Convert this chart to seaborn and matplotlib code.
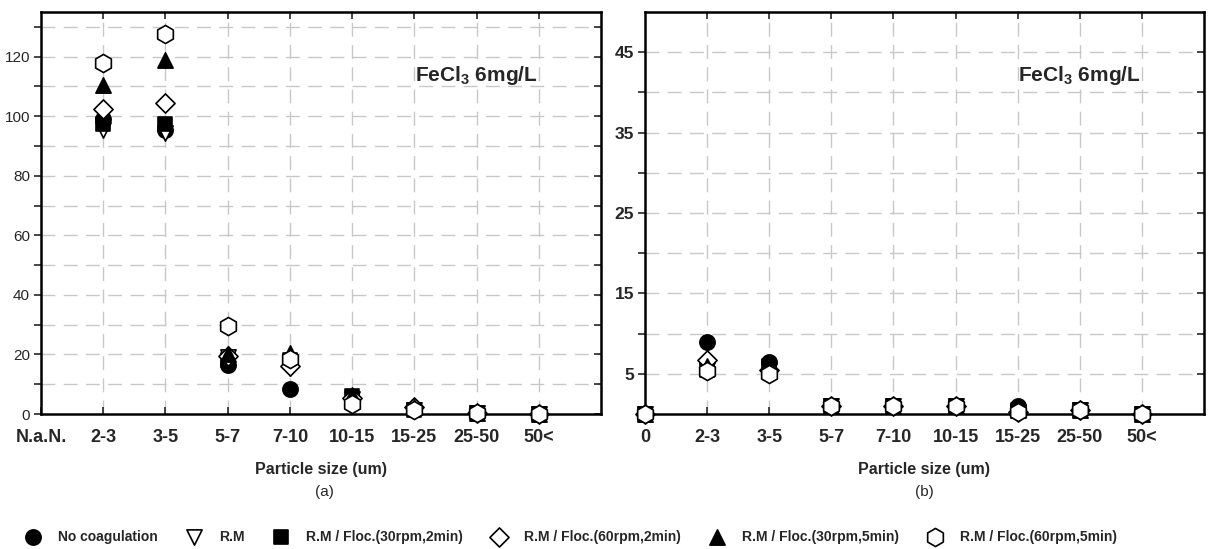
import numpy as np
import pandas as pd
import matplotlib
matplotlib.use("Agg")
import matplotlib.pyplot as plt
import seaborn as sns

sns.set_style("white")
plt.rcParams['font.family'] = ['Liberation Sans', 'DejaVu Sans']
plt.rcParams['mathtext.default'] = 'regular'

# ---------------- data ----------------
cats_a = ["N.a.N.", "2-3", "3-5", "5-7", "7-10", "10-15", "15-25", "25-50", "50<"]
cats_b = ["0", "2-3", "3-5", "5-7", "7-10", "10-15", "15-25", "25-50", "50<"]
series = ["No coagulation", "R.M", "R.M / Floc.(30rpm,2min)",
          "R.M / Floc.(60rpm,2min)", "R.M / Floc.(30rpm,5min)",
          "R.M / Floc.(60rpm,5min)"]

# panel (a): values for 2-3 .. 50< (N.a.N. has no data)
a_nocoag = [99.0, 95.5, 16.5, 8.5, 4.0, 1.5, 0.5, 0.0]
a_rm     = [95.5, 94.5, 19.0, 15.5, 5.0, 1.5, 0.5, 0.0]
a_f30_2  = [97.5, 97.5, 18.0, 18.0, 6.0, 1.5, 0.5, 0.0]
a_f60_2  = [102.5, 104.5, 19.5, 16.0, 5.5, 2.5, 0.5, 0.0]
a_f30_5  = [110.5, 119.0, 20.0, 20.5, 6.5, 2.5, 0.5, 0.0]
a_f60_5  = [118.0, 127.5, 29.5, 18.5, 3.5, 1.5, 0.3, 0.0]

# panel (b): values for 0 .. 50<
b_nocoag = [0.0, 9.0, 6.5, 1.0, 1.0, 1.0, 1.0, 0.5, 0.0]
b_rm     = [0.0, 5.5, 5.5, 1.0, 1.0, 1.0, 0.3, 0.5, 0.0]
b_f30_2  = [0.0, 5.5, 6.0, 1.0, 1.0, 1.0, 0.5, 0.5, 0.0]
b_f60_2  = [0.0, 6.7, 5.5, 1.0, 1.0, 1.0, 0.3, 0.5, 0.0]
b_f30_5  = [0.0, 6.0, 6.0, 1.0, 1.0, 1.0, 0.5, 0.5, 0.0]
b_f60_5  = [0.0, 5.3, 5.0, 1.0, 1.0, 1.0, 0.2, 0.5, 0.0]

a_vals = [a_nocoag, a_rm, a_f30_2, a_f60_2, a_f30_5, a_f60_5]
b_vals = [b_nocoag, b_rm, b_f30_2, b_f60_2, b_f30_5, b_f60_5]

markers = ['o', 'v', 's', 'D', '^', 'h']
faces = ['black', 'white', 'black', 'white', 'black', 'white']
sizes = [120, 120, 110, 95, 120, 170]

rows_a = []
for s, vals in zip(series, a_vals):
    for c, v in zip(cats_a[1:], vals):
        rows_a.append((s, cats_a.index(c), v))
df_a = pd.DataFrame(rows_a, columns=["series", "pos", "value"])
rows_b = []
for s, vals in zip(series, b_vals):
    for c, v in zip(cats_b, vals):
        rows_b.append((s, cats_b.index(c), v))
df_b = pd.DataFrame(rows_b, columns=["series", "pos", "value"])

fig = plt.figure(figsize=(12.16, 5.49), dpi=100)
ax1 = fig.add_axes([41/1216, 1-414/549, 560/1216, 402/549])
ax2 = fig.add_axes([645/1216, 1-414/549, 559/1216, 402/549])

def draw(ax, df):
    for i, s in enumerate(series):
        d = df[df.series == s]
        sns.scatterplot(data=d, x="pos", y="value", ax=ax, marker=markers[i],
                        s=sizes[i], facecolor=faces[i], edgecolor='black',
                        linewidth=1.2, label=s, zorder=3 + i, legend=False,
                        clip_on=False)

draw(ax1, df_a)
draw(ax2, df_b)

grid_kw = dict(color='#c8c8c8', linestyle=(0, (10, 6)), linewidth=1.0, zorder=0)

def style(ax, cats, ylim, ylabels, ygrid, ybold, ysize):
    ax.set_xlim(0, len(cats))
    ax.set_ylim(*ylim)
    ax.set_xticks(range(len(cats)))
    ax.set_xticklabels(cats, fontsize=13, fontweight='bold')
    ax.set_yticks(ygrid)
    ax.set_yticklabels(ylabels, fontsize=ysize, fontweight='bold' if ybold else 'normal')
    for g in ygrid:
        if g > 0:
            ax.axhline(g, **grid_kw)
    for x in range(1, len(cats)):
        ax.axvline(x, **grid_kw)
    for sp in ax.spines.values():
        sp.set_linewidth(1.8)
        sp.set_color('black')
        sp.set_visible(True)
        sp.set_zorder(2.5)
    ax.tick_params(axis='y', direction='out', length=5, width=1.2, left=True, pad=3)
    ax.tick_params(axis='x', direction='in', length=5, width=1.2, bottom=True, pad=11)
    sx = ax.secondary_xaxis('top')
    sx.set_xticks(range(1, len(cats)))
    sx.tick_params(direction='in', length=5, width=1.2, labeltop=False)
    sy = ax.secondary_yaxis('right')
    sy.set_yticks(ygrid)
    sy.tick_params(direction='in', length=5, width=1.2, labelright=False)
    ax.set_xlabel("Particle size (um)", fontsize=11.5, fontweight='bold', labelpad=11)
    ax.set_ylabel("")
    ax.text(0.668, 0.843, r'FeCl$_{3}$ 6mg/L', transform=ax.transAxes,
            fontsize=15, fontweight='bold', va='center', ha='left')

ygrid_a = list(range(0, 131, 10))
labels_a = [str(v) if v % 20 == 0 else "" for v in ygrid_a]
style(ax1, cats_a, (0, 135), labels_a, ygrid_a, False, 11)

ygrid_b = list(range(5, 50, 5))
labels_b = [str(v) if v % 10 == 5 else "" for v in ygrid_b]
style(ax2, cats_b, (0, 50), labels_b, ygrid_b, True, 12.5)

fig.text(324/1216, 1-492/549, "(a)", fontsize=11, ha='center', va='center')
fig.text(924/1216, 1-492/549, "(b)", fontsize=11, ha='center', va='center')

handles, labels = ax1.get_legend_handles_labels()
fig.legend(handles, labels, loc='center', bbox_to_anchor=(568/1216, 1-537/549), ncol=6,
           frameon=False, prop=dict(weight='bold', size=10), handletextpad=0.8,
           columnspacing=1.6, markerscale=1.0)

fig.savefig("out.png", dpi=100)
